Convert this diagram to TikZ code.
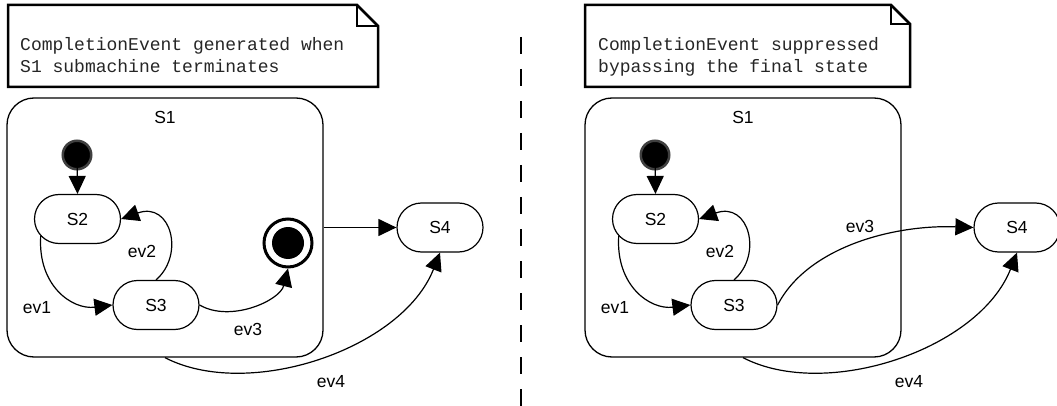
\documentclass[tikz,border=0pt]{standalone}
\usepackage{fontspec}
\setmainfont{Liberation Sans}
\newfontfamily\notefont{Liberation Mono}
\usetikzlibrary{arrows.meta,shapes.misc,calc}
\begin{document}
\begin{tikzpicture}[x=1pt,y=-1pt,
  statebox/.style={rounded rectangle, draw, line width=1.2pt, minimum width=86pt, minimum height=49pt, inner sep=0pt, font=\fontsize{17.5}{20}\selectfont},
  lbl/.style={font=\fontsize{17.5}{20}\selectfont, inner sep=0pt},
  trans/.style={line width=1.2pt, -{Triangle[length=18pt,width=17pt]}},
  initstate/.style={circle, fill=black, draw=black!75, line width=2.5pt, minimum size=28.5pt, inner sep=0pt},
  finalouter/.style={circle, draw, line width=3pt, minimum size=48pt, inner sep=0pt},
  finalinner/.style={circle, fill=black, minimum size=32pt, inner sep=0pt},
  superbox/.style={draw, rectangle, rounded corners=27pt, line width=1.3pt, minimum width=316pt, minimum height=259pt, inner sep=0pt},
  notetext/.style={font=\notefont\fontsize{18}{22}\selectfont, text=black!85, align=left, inner sep=0pt, anchor=north west},
  noteline/.style={line width=2.5pt, line join=miter},
  foldline/.style={line width=1.5pt},
  separator/.style={line width=2.7pt, dash pattern=on 17pt off 15pt},
]
\useasboundingbox (0,0) rectangle (1057,406);

% ---------- notes ----------
\draw[noteline] (8,5) -- (357,5) -- (378,26) -- (378,87) -- (8,87) -- cycle;
\draw[foldline] (357,5) -- (357,26) -- (378,26);
\node[notetext] (NoteA) at (20,37) {CompletionEvent generated when\\S1 submachine terminates};

\draw[noteline] (585,5) -- (891,5) -- (910,24) -- (910,87) -- (585,87) -- cycle;
\draw[foldline] (891,5) -- (891,24) -- (910,24);
\node[notetext] (NoteB) at (598,37) {CompletionEvent suppressed\\bypassing the final state};

% ---------- separator ----------
\draw[separator] (521,37) -- (521,406);

% ---------- left diagram ----------
\node[superbox] (S1a) at (165,227.5) {};
\node[lbl] (S1aL) at (165,117) {S1};
\node[initstate] (Ia) at (77,155) {};
\node[statebox] (S2a) at (77.5,219) {S2};
\node[statebox] (S3a) at (156,305) {S3};
\node[finalouter] (Fa) at (288,243) {};
\node[finalinner] (Fai) at (288,243) {};
\node[statebox] (S4a) at (440,227.5) {S4};

\draw[trans] (Ia.center) -- (S2a.north);
\draw[trans] (S2a.205) .. controls +(-3,50) and +(-40,5) .. (S3a.west);
\draw[trans] (S3a.north) .. controls +(29,-25) and +(50,-18) .. (S2a.east);
\draw[trans] (S3a.east) .. controls +(31,18) and +(-8,32) .. (Fa.south);
\draw[trans] (S1a.east) -- (S4a.west);
\draw[trans] (S1a.south) .. controls +(83,43) and +(-38,97) .. (S4a.south);

\node[lbl] (ev1a) at (37,308) {ev1};
\node[lbl] (ev2a) at (142,251) {ev2};
\node[lbl] (ev3a) at (248,329) {ev3};
\node[lbl] (ev4a) at (331,382) {ev4};

% ---------- right diagram ----------
\node[superbox] (S1b) at (743,227.5) {};
\node[lbl] (S1bL) at (743,117) {S1};
\node[initstate] (Ib) at (655,155) {};
\node[statebox] (S2b) at (655.5,219) {S2};
\node[statebox] (S3b) at (734,305) {S3};
\node[statebox] (S4b) at (1017,227.5) {S4};

\draw[trans] (Ib.center) -- (S2b.north);
\draw[trans] (S2b.205) .. controls +(-3,50) and +(-40,5) .. (S3b.west);
\draw[trans] (S3b.north) .. controls +(29,-25) and +(50,-18) .. (S2b.east);
\draw[trans] (S3b.east) .. controls +(30,-58) and +(-80,-3) .. (S4b.west);
\draw[trans] (S1b.south) .. controls +(83,43) and +(-38,97) .. (S4b.south);

\node[lbl] (ev1b) at (615,308) {ev1};
\node[lbl] (ev2b) at (720,251) {ev2};
\node[lbl] (ev3b) at (860,226) {ev3};
\node[lbl] (ev4b) at (909,382) {ev4};
\end{tikzpicture}
\end{document}
